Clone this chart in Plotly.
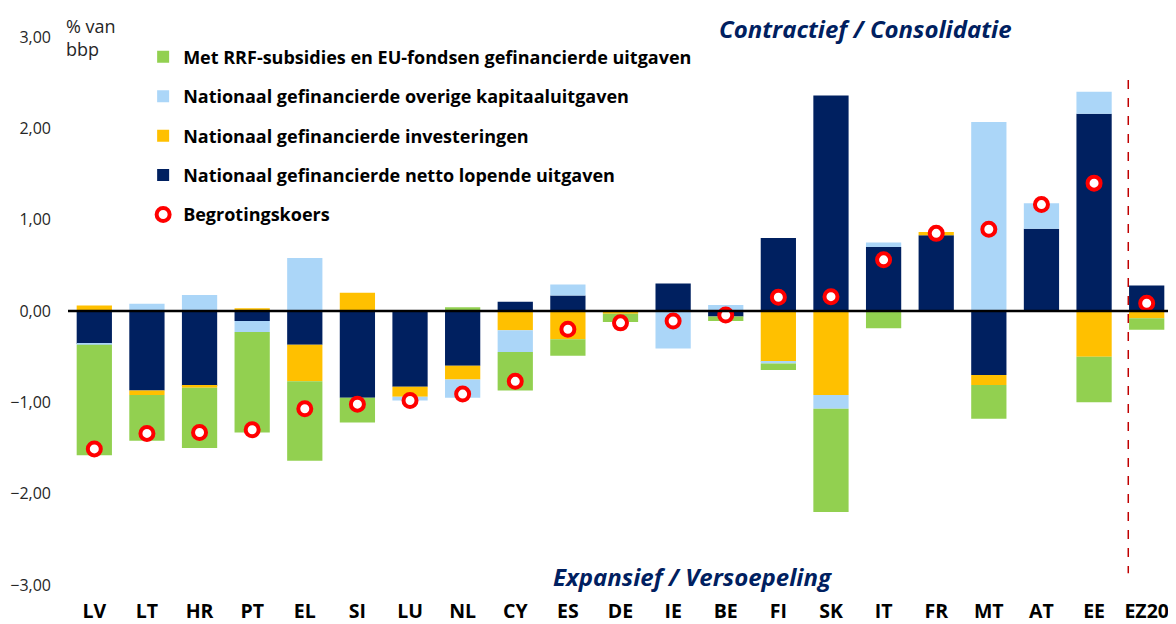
import plotly.graph_objects as go

categories = ["LV", "LT", "HR", "PT", "EL", "SI", "LU", "NL", "CY", "ES", "DE",
              "IE", "BE", "FI", "SK", "IT", "FR", "MT", "AT", "EE", "EZ20"]

# Nationaal gefinancierde netto lopende uitgaven
navy_vals = [-0.36, -0.87, -0.82, -0.11, -0.37, -0.95, -0.83, -0.60, 0.10, 0.17, 0.00,
             0.30, -0.06, 0.80, 2.36, 0.70, 0.83, -0.70, 0.90, 2.16, 0.28]
# Nationaal gefinancierde investeringen
orange_vals = [0.06, -0.05, -0.02, 0.03, -0.40, 0.20, -0.11, -0.15, -0.21, -0.31, -0.03,
               0.00, 0.00, -0.555, -0.92, 0.00, 0.035, -0.11, -0.01, -0.50, -0.08]
# Nationaal gefinancierde overige kapitaaluitgaven
lblue_vals = [-0.01, 0.08, 0.175, -0.12, 0.58, 0.00, -0.04, -0.20, -0.24, 0.12, 0.00,
              -0.41, 0.066, -0.02, -0.15, 0.05, 0.00, 2.07, 0.28, 0.24, 0.00]
# Met RRF-subsidies en EU-fondsen gefinancierde uitgaven
green_vals = [-1.21, -0.50, -0.66, -1.10, -0.87, -0.27, 0.00, 0.04, -0.42, -0.18, -0.09,
              0.00, -0.05, -0.07, -1.13, -0.19, 0.00, -0.37, 0.00, -0.50, -0.125]
# Begrotingskoers
stance_vals = [-1.51, -1.34, -1.33, -1.30, -1.07, -1.02, -0.98, -0.91, -0.77, -0.20, -0.13,
               -0.11, -0.045, 0.15, 0.157, 0.56, 0.85, 0.895, 1.165, 1.40, 0.085]

y_ticks = [-3, -2, -1, 0, 1, 2, 3]

NAVY = "#002060"
ORANGE = "#FFC000"
LBLUE = "#ABD6F8"
GREEN = "#92D050"
RED = "#FF0000"
FONT = "Open Sans"

fig = go.Figure()

series = [
    ("Nationaal gefinancierde netto lopende uitgaven", navy_vals, NAVY, 4),
    ("Nationaal gefinancierde investeringen", orange_vals, ORANGE, 3),
    ("Nationaal gefinancierde overige kapitaaluitgaven", lblue_vals, LBLUE, 2),
    ("Met RRF-subsidies en EU-fondsen gefinancierde uitgaven", green_vals, GREEN, 1),
]
for name, vals, color, rank in series:
    fig.add_trace(go.Bar(
        x=categories, y=vals, name=name, marker=dict(color=color, line=dict(width=0)),
        legendrank=rank, legendgroup=name,
    ))

fig.add_trace(go.Scatter(
    x=categories, y=stance_vals, name="Begrotingskoers", mode="markers",
    marker=dict(symbol="circle", size=13, color="white", line=dict(color=RED, width=4)),
    legendrank=5, legendgroup="stance",
))

# page body has an 8px default margin: figure is sized so it ends at the window edge
fig.update_layout(
    width=1168, height=616,
    barmode="relative", bargap=0.33,
    paper_bgcolor="white", plot_bgcolor="white",
    margin=dict(l=60, r=3, t=29, b=39, autoexpand=False),
    separators=",.",
    font=dict(family=FONT, color="#000000"),
    showlegend=True,
    legend=dict(
        x=0.068, y=0.997, xanchor="left", yanchor="top",
        font=dict(size=18, family=FONT, color="#000000", weight="bold"),
        bgcolor="rgba(0,0,0,0)", tracegroupgap=13, itemwidth=30,
    ),
    xaxis=dict(
        type="category", range=[-0.5, 20.5], showgrid=False, showline=False, zeroline=False,
        tickfont=dict(size=19.5, family=FONT, color="#000000", weight="bold"),
        ticks="", ticklabelstandoff=12, automargin=False,
    ),
    yaxis=dict(
        range=[-3, 3], tickvals=y_ticks, tickformat=".2f",
        showgrid=False, showline=False, zeroline=False, ticks="",
        tickfont=dict(size=16, family=FONT, color="#262626"),
        ticklabelstandoff=16, automargin=False,
    ),
    shapes=[
        dict(type="line", xref="paper", yref="y", x0=0, x1=1.003, y0=0, y1=0,
             line=dict(color="black", width=2.5), layer="above"),
        dict(type="line", xref="x", yref="y", x0=19.65, x1=19.65, y0=2.53, y1=-2.87,
             line=dict(color="#C00000", width=1.5, dash="dash"), layer="above"),
    ],
    annotations=[
        dict(text="% van<br>bbp", xref="paper", yref="paper", x=-0.004, y=1.045,
             xanchor="left", yanchor="top", align="left", showarrow=False,
             font=dict(size=18, family=FONT, color="#262626")),
        dict(text="<b><i>Contractief / Consolidatie</i></b>", xref="paper", yref="paper",
             x=0.722, y=1.016, xanchor="center", yanchor="middle", showarrow=False,
             font=dict(size=24, family=FONT, color=NAVY)),
        dict(text="<b><i>Expansief / Versoepeling</i></b>", xref="paper", yref="paper",
             x=0.565, y=0.0146, xanchor="center", yanchor="middle", showarrow=False,
             font=dict(size=24, family=FONT, color=NAVY)),
    ],
)

fig.write_html("out.html")
